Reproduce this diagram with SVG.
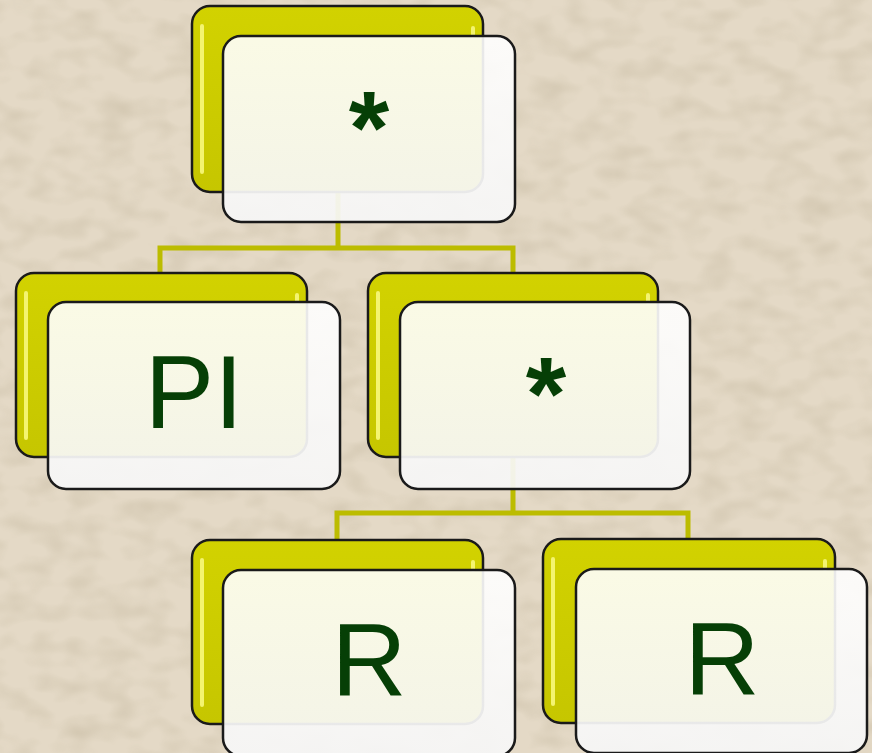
<svg xmlns="http://www.w3.org/2000/svg" width="872" height="753" viewBox="0 0 872 753">
<defs>
<filter id="tex" x="0" y="0" width="100%" height="100%">
<feTurbulence type="fractalNoise" baseFrequency="0.03 0.05" numOctaves="2" seed="3" result="n"/>
<feColorMatrix in="n" type="matrix" values="0 0 0 0 0.50  0 0 0 0 0.43  0 0 0 0 0.30  0 0 0 -1.6 0.95"/>
</filter>
<linearGradient id="yg" x1="0" y1="0" x2="0" y2="1">
<stop offset="0" stop-color="#d2d200"/>
<stop offset="1" stop-color="#c6c600"/>
</linearGradient>
<linearGradient id="wg" x1="0" y1="0" x2="0" y2="1">
<stop offset="0" stop-color="#ffffff" stop-opacity="0.9"/>
<stop offset="1" stop-color="#f6f6f6" stop-opacity="0.94"/>
</linearGradient>
<style>
.ybox{fill:url(#yg);stroke:#1a1a1a;stroke-width:2.5}
.hl{stroke:#f4f470;stroke-width:4;stroke-linecap:round;fill:none}
.wbox{fill:url(#wg);stroke:#1a1a1a;stroke-width:2.5}
.lbl{font-family:'Liberation Sans',Arial,sans-serif;font-size:104px;fill:#063f06;text-anchor:middle}
.ast{font-weight:bold}
.con{fill:none;stroke:#bcbc00;stroke-width:5}
</style>
</defs>
<rect width="872" height="753" fill="#e4d9c6"/>
<rect width="872" height="753" filter="url(#tex)" opacity="0.45"/>
<g id="connectors">
<path class="con" d="M338 192 V248 M160 273 V248 H513 V273"/>
<path class="con" d="M513 457 V513 M337 540 V513 H688 V540"/>
</g>
<g id="node-top">
<rect class="ybox" x="192" y="6" width="291" height="186" rx="18"/>
<path class="hl" d="M202 26 V172 M473 28 V36"/>
<rect class="wbox" x="223" y="36" width="292" height="186" rx="18"/>
<text class="lbl ast" x="369" y="164">*</text>
</g>
<g id="node-pi">
<rect class="ybox" x="16" y="273" width="291" height="184" rx="18"/>
<path class="hl" d="M26 293 V438 M297 295 V302"/>
<rect class="wbox" x="48" y="302" width="292" height="187" rx="18"/>
<text class="lbl" x="194" y="428">PI</text>
</g>
<g id="node-mul">
<rect class="ybox" x="368" y="273" width="290" height="184" rx="18"/>
<path class="hl" d="M378 293 V438 M648 295 V302"/>
<rect class="wbox" x="400" y="302" width="290" height="187" rx="18"/>
<text class="lbl ast" x="546" y="430">*</text>
</g>
<g id="node-r1">
<rect class="ybox" x="192" y="540" width="291" height="184" rx="18"/>
<path class="hl" d="M202 560 V705 M473 562 V570"/>
<rect class="wbox" x="223" y="570" width="292" height="186" rx="18"/>
<text class="lbl" x="369" y="696">R</text>
</g>
<g id="node-r2">
<rect class="ybox" x="543" y="539" width="292" height="184" rx="18"/>
<path class="hl" d="M553 559 V704 M825 561 V569"/>
<rect class="wbox" x="576" y="569" width="291" height="184" rx="18"/>
<text class="lbl" x="722" y="695">R</text>
</g>
</svg>
